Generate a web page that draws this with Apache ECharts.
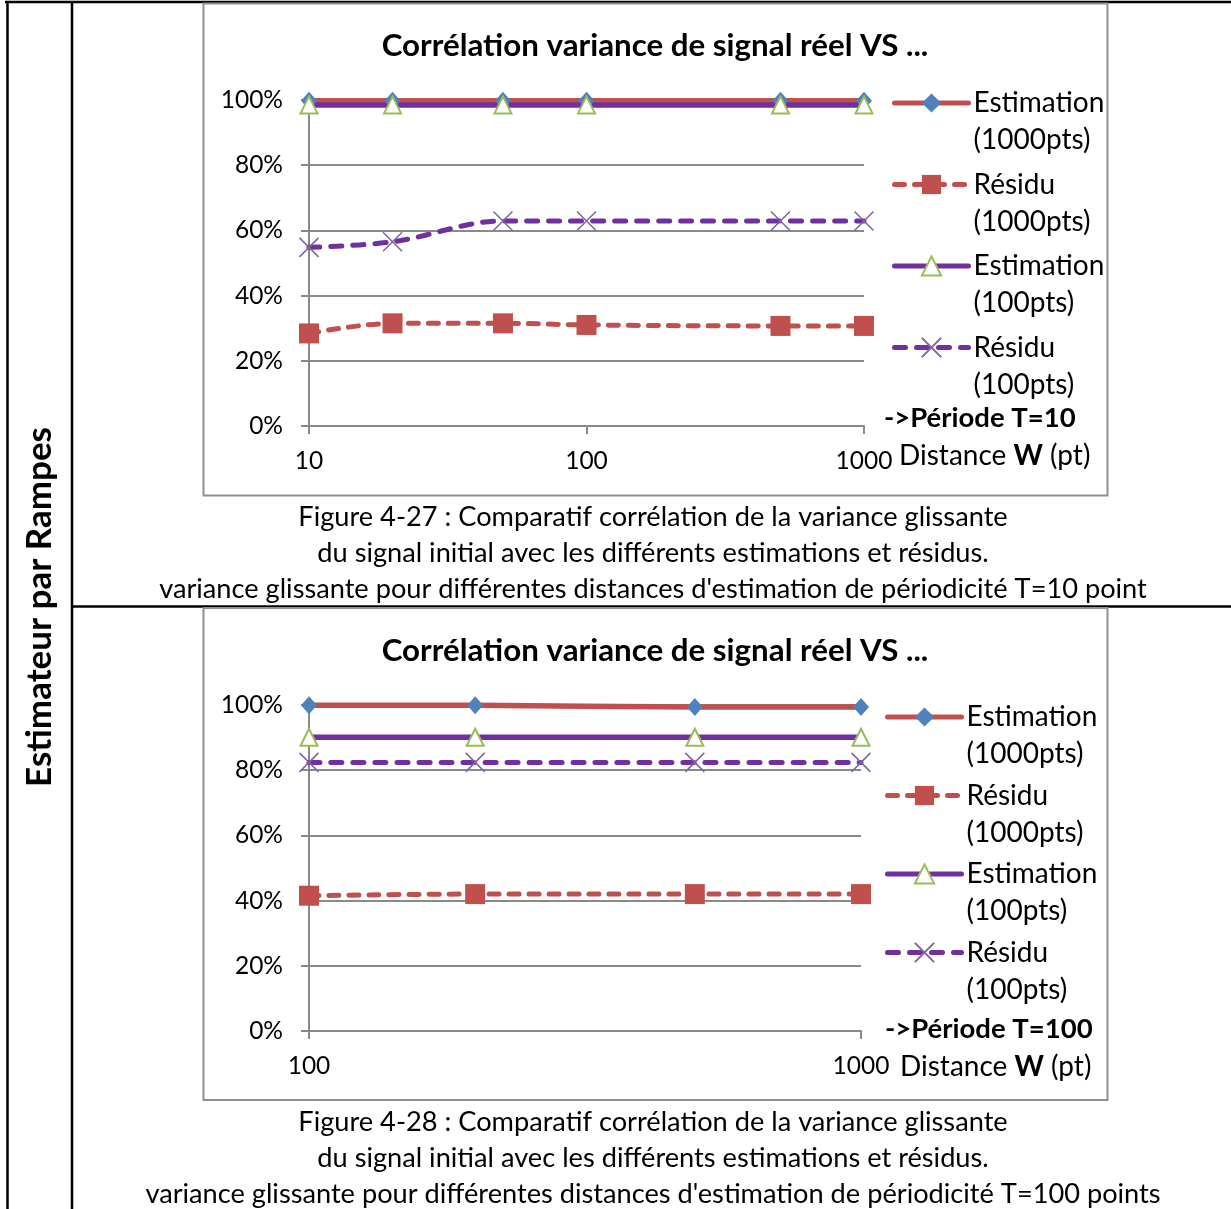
<!DOCTYPE html>
<html><head><meta charset="utf-8">
<script src="https://cdn.jsdelivr.net/npm/echarts@6.0.0/dist/echarts.min.js"></script>
<style>html,body{margin:0;padding:0;background:#fff}#c{width:1231px;height:1209px}</style>
</head><body><div id="c"></div>
<script>
// ---------- data ----------
const seriesNames = ['Estimation\n(1000pts)', 'Résidu\n(1000pts)', 'Estimation\n(100pts)', 'Résidu\n(100pts)'];
// Figure 4-27 (T = 10)
const c1Distance = [10, 20, 50, 100, 500, 1000];
const c1Est1000 = [0.998, 0.998, 0.998, 0.998, 0.998, 0.998];
const c1Res1000 = [0.284, 0.315, 0.315, 0.310, 0.307, 0.307];
const c1Est100  = [0.985, 0.985, 0.985, 0.985, 0.985, 0.985];
const c1Res100  = [0.548, 0.565, 0.629, 0.629, 0.629, 0.629];
// Figure 4-28 (T = 100)
const c2Distance = [100, 200, 500, 1000];
const c2Est1000 = [0.999, 0.999, 0.994, 0.994];
const c2Res1000 = [0.415, 0.420, 0.420, 0.420];
const c2Est100  = [0.901, 0.901, 0.901, 0.901];
const c2Res100  = [0.824, 0.824, 0.824, 0.824];
const chartTitle = 'Corrélation variance de signal réel VS ...';
const rowLabel = 'Estimateur par Rampes';
const caption1 = ['Figure 4-27 : Comparatif corrélation de la variance glissante',
  'du signal initial avec les différents estimations et résidus.',
  "variance glissante pour différentes distances d'estimation de périodicité T=10 point"];
const caption2 = ['Figure 4-28 : Comparatif corrélation de la variance glissante',
  'du signal initial avec les différents estimations et résidus.',
  "variance glissante pour différentes distances d'estimation de périodicité T=100 points"];
const period1 = '->Période T=10';
const period2 = '->Période T=100';

// ---------- styles ----------
const FONT = 'Lato';
const RED = '#C0504D', BLUE = '#4F81BD', PURPLE = '#7030A0', GREEN = '#9BBB59', LPURPLE = '#8064A2';
const GRID = '#8a8a8a';
const XPATH = 'path://M0,0L10,10M10,0L0,10';
const L = 37;

function pairs(xs, ys) { return xs.map((x, i) => [x, ys[i]]); }
function mkSeries(idx, xs, e1, r1, e2, r2) {
  const common = { xAxisIndex: idx, yAxisIndex: idx, smooth: 0.35, clip: false, animation: false };
  return [
    Object.assign({}, common, { name: seriesNames[0], type: 'line', data: pairs(xs, e1),
      symbol: 'diamond', symbolSize: [16, 18],
      lineStyle: { color: RED, width: 5.5, cap: 'round' }, itemStyle: { color: BLUE } }),
    Object.assign({}, common, { name: seriesNames[1], type: 'line', data: pairs(xs, r1),
      symbol: 'rect', symbolSize: 20,
      lineStyle: { color: RED, width: 5, type: [10, 10], cap: 'round' }, itemStyle: { color: RED } }),
    Object.assign({}, common, { name: seriesNames[2], type: 'line', data: pairs(xs, e2),
      symbol: 'triangle', symbolSize: [17, 17],
      lineStyle: { color: PURPLE, width: 5.5, cap: 'round' },
      itemStyle: { color: '#fff', borderColor: GREEN, borderWidth: 2 } }),
    Object.assign({}, common, { name: seriesNames[3], type: 'line', data: pairs(xs, r2),
      symbol: XPATH, symbolSize: 19,
      lineStyle: { color: PURPLE, width: 5, type: [11, 11], cap: 'round' },
      itemStyle: { color: LPURPLE, borderColor: LPURPLE, borderWidth: 1.5 } })
  ];
}
function mkX(idx, min, max) {
  return { type: 'log', logBase: 10, gridIndex: idx, min: min, max: max,
    axisLine: { show: true, lineStyle: { color: GRID, width: 2 } },
    axisTick: { show: true, length: 8, lineStyle: { color: GRID, width: 2 } },
    splitLine: { show: false },
    axisLabel: { margin: 23, fontFamily: FONT, fontSize: 24.5, color: '#000',
      formatter: v => String(Math.round(v)) } };
}
function mkY(idx) {
  return { type: 'value', gridIndex: idx, min: 0, max: 1, interval: 0.2,
    axisLine: { show: true, lineStyle: { color: GRID, width: 2 } },
    axisTick: { show: true, length: 8, lineStyle: { color: GRID, width: 2 } },
    splitLine: { show: true, lineStyle: { color: GRID, width: 2 } },
    axisLabel: { margin: 26, fontFamily: FONT, fontSize: 24.5, color: '#000',
      formatter: v => Math.round(v * 100) + '%' } };
}
function mkLegend(left, firstY, step) {
  return { orient: 'vertical', left: left, top: firstY - 1.5 * L, padding: 0,
    itemWidth: 74, itemHeight: 24, itemGap: step - 3 * L, selectedMode: false,
    data: seriesNames, formatter: n => '\n' + n,
    lineStyle: { width: 5, cap: 'round' },
    textStyle: { fontFamily: FONT, fontSize: 28, lineHeight: L, color: '#000' } };
}
function txt(x, y, text, o) {
  return { type: 'text', x: x, y: y, silent: true,
    style: Object.assign({ text: text, fontFamily: FONT, fontSize: 27.2, fill: '#000',
      align: 'center', verticalAlign: 'middle' }, o || {}) };
}
function line(x1, y1, x2, y2) {
  return { type: 'line', silent: true, shape: { x1, y1, x2, y2 },
    style: { stroke: '#000', lineWidth: 2.5 } };
}
const distRich = { n: { fontFamily: FONT, fontSize: 28 }, w: { fontFamily: FONT, fontSize: 28, fontWeight: 'bold' } };
const distText = '{n|Distance }{w|W}{n| (pt)}';

const graphics = [
  line(5, 2, 1231, 2), line(7.5, 2, 7.5, 1209), line(72, 2, 72, 1209), line(72, 606.5, 1231, 606.5),
  { type: 'rect', silent: true, shape: { x: 203.5, y: 3.5, width: 904, height: 492 },
    style: { fill: 'none', stroke: '#909090', lineWidth: 2 } },
  { type: 'rect', silent: true, shape: { x: 203.5, y: 608, width: 904, height: 492 },
    style: { fill: 'none', stroke: '#909090', lineWidth: 2 } },
  txt(655, 46, chartTitle, { fontWeight: 'bold', fontSize: 31.3 }),
  txt(655, 651, chartTitle, { fontWeight: 'bold', fontSize: 31.3 }),
  txt(884, 418, period1, { fontWeight: 'bold', align: 'left', fontSize: 27.5 }),
  txt(885, 1029, period2, { fontWeight: 'bold', align: 'left', fontSize: 27.5 }),
  txt(899, 456, distText, { align: 'left', rich: distRich }),
  txt(900, 1067, distText, { align: 'left', rich: distRich }),
  Object.assign(txt(40, 607, rowLabel, { fontWeight: 'bold', fontSize: 35 }), { rotation: Math.PI / 2 }),
  txt(653, 517, caption1[0]), txt(653, 553, caption1[1]), txt(653, 589, caption1[2]),
  txt(653, 1122, caption2[0]), txt(653, 1158, caption2[1]), txt(653, 1194, caption2[2])
];

const chart = echarts.init(document.getElementById('c'), null, { renderer: 'canvas' });
chart.setOption({
  animation: false,
  backgroundColor: '#fff',
  grid: [
    { left: 309, top: 100, width: 555, height: 326, containLabel: false },
    { left: 309, top: 705, width: 552, height: 326, containLabel: false }
  ],
  xAxis: [mkX(0, 10, 1000), mkX(1, 100, 1000)],
  yAxis: [mkY(0), mkY(1)],
  legend: [mkLegend(892, 103, 81.5), mkLegend(885, 717, 78.5)],
  series: mkSeries(0, c1Distance, c1Est1000, c1Res1000, c1Est100, c1Res100)
    .concat(mkSeries(1, c2Distance, c2Est1000, c2Res1000, c2Est100, c2Res100)),
  graphic: graphics
});
</script></body></html>
